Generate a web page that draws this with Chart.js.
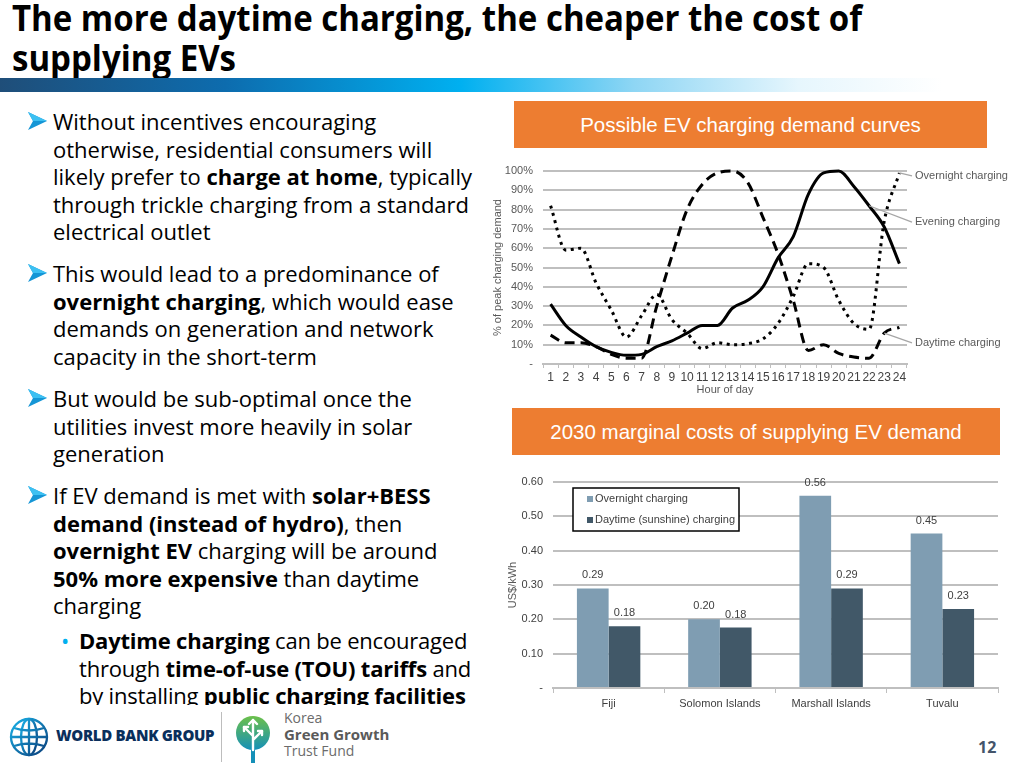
<!DOCTYPE html>
<html>
<head>
<meta charset="utf-8">
<script src="https://cdn.jsdelivr.net/npm/chart.js@4.4.1/dist/chart.umd.min.js"></script>
<style>
  body { margin:0; width:1024px; height:768px; position:relative; overflow:hidden; background:#fff; font-family:'Open Sans', sans-serif; }
  #title { position:absolute; left:12px; top:-2px; font-weight:700; font-size:36px; line-height:40px; color:#000; white-space:nowrap; }
  #title span { display:inline-block; transform-origin:left center; }
  #band { position:absolute; left:0; top:78px; width:1024px; height:14px;
    background:linear-gradient(to right,#1f4e79 0%,#0d6cae 22%,#00b0f0 45%,#8fd6f4 62%,#e6f6fd 78%,#ffffff 92%); }
  #text { position:absolute; left:0; top:0; width:495px; height:705px; overflow:hidden; }
  .p { position:absolute; left:53px; font-size:22px; line-height:27.5px; white-space:nowrap; color:#000; }
  .p svg { position:absolute; left:-25px; top:4px; }
  .sub { left:79px; }
  .sub .dot { position:absolute; left:-18px; top:0; color:#00b0f0; }
  .box { position:absolute; background:#ed7d31; color:#fff; font-family:'Liberation Sans', Arial, sans-serif; font-size:20.5px;
    display:flex; align-items:center; justify-content:center; }
  .cv { position:absolute; }
  #sep { position:absolute; left:221px; top:712px; width:1px; height:50px; background:#bdbdbd; }
  #wbtext { position:absolute; left:56px; top:725px; font-family:'Open Sans', sans-serif; font-weight:800; font-size:15px; color:#0a2f5c; letter-spacing:-0.3px; }
  #kg { position:absolute; left:284px; top:710px; font-family:'Open Sans', sans-serif; color:#6b6b6b; font-size:14px; line-height:16px; }
  #kg b { color:#5a5a5a; font-size:15px; }
  #pg { position:absolute; left:978px; top:736px; font-family:'Open Sans', sans-serif; font-weight:700; font-size:16px; color:#44546a; }
</style>
</head>
<body>
<div id="title"><span id="t1">The more daytime charging, the cheaper the cost of</span><br><span>supplying EVs</span></div>
<div id="band"></div>

<div id="text">
  <div class="p" style="top:108px"><svg width="20" height="18" viewBox="0 0 20 18"><path d="M0 0 L19 9 L0 18 L5 9 Z" fill="#1596d6"/><path d="M0 0 L19 9 L5 9 Z" fill="#3cc0f2"/></svg>Without incentives encouraging<br>otherwise, residential consumers will<br>likely prefer to <b>charge at home</b>, typically<br>through trickle charging from a standard<br>electrical outlet</div>
  <div class="p" style="top:260px"><svg width="20" height="18" viewBox="0 0 20 18"><path d="M0 0 L19 9 L0 18 L5 9 Z" fill="#1596d6"/><path d="M0 0 L19 9 L5 9 Z" fill="#3cc0f2"/></svg>This would lead to a predominance of<br><b>overnight charging</b>, which would ease<br>demands on generation and network<br>capacity in the short-term</div>
  <div class="p" style="top:385px"><svg width="20" height="18" viewBox="0 0 20 18"><path d="M0 0 L19 9 L0 18 L5 9 Z" fill="#1596d6"/><path d="M0 0 L19 9 L5 9 Z" fill="#3cc0f2"/></svg>But would be sub-optimal once the<br>utilities invest more heavily in solar<br>generation</div>
  <div class="p" style="top:482px"><svg width="20" height="18" viewBox="0 0 20 18"><path d="M0 0 L19 9 L0 18 L5 9 Z" fill="#1596d6"/><path d="M0 0 L19 9 L5 9 Z" fill="#3cc0f2"/></svg>If EV demand is met with <b>solar+BESS</b><br><b>demand (instead of hydro)</b>, then<br><b>overnight EV</b> charging will be around<br><b>50% more expensive</b> than daytime<br>charging</div>
  <div class="p sub" style="top:627px;letter-spacing:-0.2px"><span class="dot">•</span><b>Daytime charging</b> can be encouraged<br>through <b>time-of-use (TOU) tariffs</b> and<br>by installing <b>public charging facilities</b></div>
</div>

<div class="box" style="left:514px;top:101px;width:473px;height:47px">Possible EV charging demand curves</div>
<div class="box" style="left:512px;top:408px;width:488px;height:47px">2030 marginal costs of supplying EV demand</div>

<canvas id="curves" class="cv" width="534" height="240" style="left:490px;top:160px"></canvas>
<canvas id="costs" class="cv" width="524" height="245" style="left:500px;top:470px"></canvas>

<svg style="position:absolute;left:8px;top:716px" width="42" height="42" viewBox="0 0 42 42">
  <defs><linearGradient id="wbg" x1="0" y1="0" x2="1" y2="1"><stop offset="0" stop-color="#19b2e8"/><stop offset="1" stop-color="#0a3d7a"/></linearGradient></defs>
  <g fill="none" stroke="url(#wbg)" stroke-width="2.3">
    <circle cx="21" cy="21" r="18"/>
    <ellipse cx="21" cy="21" rx="8" ry="18"/>
    <path d="M21 3 V39 M3 21 H39 M6 12 Q21 17 36 12 M6 30 Q21 25 36 30"/>
  </g>
</svg>
<div id="wbtext">WORLD BANK GROUP</div>
<div id="sep"></div>
<svg style="position:absolute;left:234px;top:714px" width="38" height="50" viewBox="0 0 38 50">
  <defs><linearGradient id="kgg" x1="0" y1="0" x2="0" y2="1"><stop offset="0" stop-color="#6cc04a"/><stop offset="1" stop-color="#1590b8"/></linearGradient></defs>
  <rect x="17" y="30" width="4" height="19" fill="#1590b8"/>
  <circle cx="19" cy="19" r="17" fill="url(#kgg)"/>
  <g stroke="#fff" stroke-width="2.4" fill="none" stroke-linecap="round" stroke-linejoin="round">
    <path d="M19 36 V6 M19 22 L10 13 M19 26 L28 17"/>
    <path d="M15 10 L19 6 L23 10 M10 17 L10 13 L14 13 M24 17 L28 17 L28 21"/>
  </g>
</svg>
<div id="kg">Korea<br><b>Green Growth</b><br>Trust Fund</div>
<div id="pg">12</div>

<script>
// fit the title to the slide width
const t1 = document.getElementById('t1');
const sx = 850 / t1.getBoundingClientRect().width;
document.querySelectorAll('#title span').forEach(el => el.style.transform = 'scaleX(' + sx + ')');

Chart.defaults.font.family = '"Liberation Sans", Arial, sans-serif';
Chart.defaults.color = '#595959';

// top chart: demand curves, % of peak
const hours = ['1','2','3','4','5','6','7','8','9','10','11','12','13','14','15','16','17','18','19','20','21','22','23','24'];
const overnight = [82, 59, 60, 42, 28, 14, 25, 36, 23, 16, 8, 11, 10, 10.5, 13, 21, 35, 52, 50, 33, 21, 18, 74, 99];
const evening   = [31, 20, 14, 9, 6, 4.5, 5, 9, 12, 16, 20, 20, 29, 33, 40, 55, 66, 88, 99, 100, 92, 82, 71, 52];
const daytime   = [15, 11, 11, 9, 5, 3, 3, 30, 56, 80, 93, 99, 100, 94, 76, 57, 33, 7, 10, 5.5, 3.6, 3, 16, 19];

// bottom chart: marginal cost, US$/kWh
const countries = ['Fiji', 'Solomon Islands', 'Marshall Islands', 'Tuvalu'];
const overnightCost = [0.29, 0.20, 0.56, 0.45];
const daytimeCost   = [0.18, 0.176, 0.29, 0.23];

// y axis: fixed width, no extra label padding at top/bottom
function fixY(s) {
  s.width = 53;
  s.paddingTop = 0;
  s.paddingBottom = 0;
}

const curveLabels = {
  id: 'curveLabels',
  afterDatasetsDraw(chart, args, opts) {
    const ctx = chart.ctx, y = chart.scales.y;
    ctx.save();
    ctx.font = '11px "Liberation Sans", Arial';
    ctx.fillStyle = '#595959';
    ctx.strokeStyle = '#a6a6a6';
    ctx.lineWidth = 1.3;
    ctx.textBaseline = 'middle';
    opts.items.forEach(it => {
      const pt = chart.getDatasetMeta(it.dataset).data[it.index];
      const lx = chart.chartArea.right + 5;
      const ly = y.getPixelForValue(it.at);
      ctx.beginPath();
      ctx.moveTo(pt.x, pt.y);
      ctx.lineTo(lx, ly);
      ctx.stroke();
      ctx.fillText(chart.data.datasets[it.dataset].label, lx + 3, ly);
    });
    ctx.restore();
  }
};

new Chart(document.getElementById('curves'), {
  type: 'line',
  data: {
    labels: hours,
    datasets: [
      { label: 'Overnight charging', data: overnight, borderDash: [3, 4.5] },
      { label: 'Evening charging', data: evening },
      { label: 'Daytime charging', data: daytime, borderDash: [10, 6] }
    ]
  },
  options: {
    responsive: false,
    animation: false,
    layout: { padding: { top: 11, right: 117, left: 0, bottom: 0 } },
    elements: {
      line: { borderColor: '#000', borderWidth: 3, cubicInterpolationMode: 'monotone', fill: false },
      point: { radius: 0 }
    },
    clip: false,
    plugins: {
      legend: { display: false },
      tooltip: { enabled: false },
      curveLabels: { items: [
        { dataset: 0, index: 23, at: 97.5 },
        { dataset: 1, index: 21, at: 73.5 },
        { dataset: 2, index: 22, at: 11 }
      ] }
    },
    scales: {
      x: {
        offset: true,
        grid: { offset: true, drawOnChartArea: false, tickLength: 4, color: '#bfbfbf' },
        border: { color: '#bfbfbf', width: 2 },
        ticks: { font: { size: 12 }, color: '#404040', padding: 2, maxRotation: 0, autoSkip: false },
        title: { display: true, text: 'Hour of day', font: { size: 11 }, padding: { top: 0, bottom: 3 } },
        afterFit(s) { s.height = 36; }
      },
      y: {
        min: 0, max: 100,
        ticks: { stepSize: 10, padding: 10, font: { size: 11 }, callback: v => v === 0 ? '-' : v + '%' },
        grid: { color: '#bfbfbf', lineWidth: 2, drawTicks: false },
        border: { display: false },
        title: { display: true, text: '% of peak charging demand', font: { size: 11 }, padding: { top: 1.5, bottom: 0 } },
        afterFit: fixY
      }
    }
  },
  plugins: [curveLabels]
});

const boxLegend = {
  id: 'boxLegend',
  afterDatasetsDraw(chart) {
    const ctx = chart.ctx, a = chart.chartArea;
    const x = a.left + 20, y = a.top + 6, w = 166, h = 43;
    ctx.save();
    ctx.fillStyle = '#fff';
    ctx.fillRect(x, y, w, h);
    ctx.strokeStyle = '#000';
    ctx.lineWidth = 1.5;
    ctx.strokeRect(x, y, w, h);
    ctx.font = '11px "Liberation Sans", Arial';
    ctx.textBaseline = 'middle';
    chart.data.datasets.forEach((ds, i) => {
      const cy = y + 11 + i * 21;
      ctx.fillStyle = ds.backgroundColor;
      ctx.fillRect(x + 14, cy - 3, 6, 6);
      ctx.fillStyle = '#404040';
      ctx.fillText(ds.label, x + 22, cy);
    });
    ctx.restore();
  }
};

const valueLabels = {
  id: 'valueLabels',
  afterDatasetsDraw(chart) {
    const ctx = chart.ctx;
    ctx.save();
    ctx.font = '11px "Liberation Sans", Arial';
    ctx.fillStyle = '#404040';
    ctx.textAlign = 'center';
    ctx.textBaseline = 'middle';
    chart.data.datasets.forEach((ds, i) => {
      chart.getDatasetMeta(i).data.forEach((bar, j) => {
        ctx.fillText(ds.data[j].toFixed(2), bar.x, bar.y - 13);
      });
    });
    ctx.restore();
  }
};

new Chart(document.getElementById('costs'), {
  type: 'bar',
  data: {
    labels: countries,
    datasets: [
      { label: 'Overnight charging', data: overnightCost, backgroundColor: '#7f9db2' },
      { label: 'Daytime (sunshine) charging', data: daytimeCost, backgroundColor: '#415868' }
    ]
  },
  options: {
    responsive: false,
    animation: false,
    layout: { padding: { top: 12, right: 26, left: 0, bottom: 0 } },
    datasets: { bar: { barPercentage: 1, categoryPercentage: 0.57 } },
    plugins: { legend: { display: false }, tooltip: { enabled: false } },
    scales: {
      x: {
        grid: { offset: true, drawOnChartArea: false, tickLength: 5, color: '#bfbfbf' },
        border: { color: '#bfbfbf', width: 2 },
        ticks: { font: { size: 11 }, color: '#404040', padding: 4 },
        afterFit(s) { s.height = 27; }
      },
      y: {
        min: 0, max: 0.6,
        ticks: { stepSize: 0.1, padding: 10, font: { size: 11 }, color: '#404040', callback: v => v === 0 ? '-' : v.toFixed(2) },
        grid: { color: '#bfbfbf', lineWidth: 2, drawTicks: false },
        border: { display: false },
        title: { display: true, text: 'US$/kWh', font: { size: 11 }, padding: { top: 6.5, bottom: 0 } },
        afterFit: fixY
      }
    }
  },
  plugins: [boxLegend, valueLabels]
});
</script>
</body>
</html>
